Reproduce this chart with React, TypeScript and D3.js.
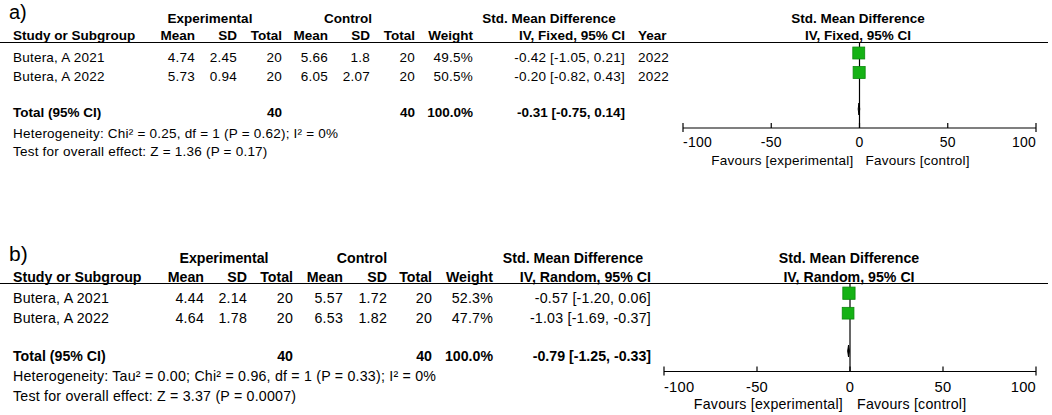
import React from 'react';
import * as d3 from 'd3';

// ---- data: panel a (fixed effect) ----
const studiesA = ['Butera, A 2021', 'Butera, A 2022'];
const expMeanA = [4.74, 5.73];
const expSdA = [2.45, 0.94];
const expNA = [20, 20];
const ctlMeanA = [5.66, 6.05];
const ctlSdA = [1.8, 2.07];
const ctlNA = [20, 20];
const weightA = [49.5, 50.5];
const smdA = [-0.42, -0.2];
const loA = [-1.05, -0.82];
const hiA = [0.21, 0.43];
const yearA = [2022, 2022];
const totalA = { exp: 40, ctl: 40, smd: -0.31, lo: -0.75, hi: 0.14 };
const hetA = 'Heterogeneity: Chi² = 0.25, df = 1 (P = 0.62); I² = 0%';
const testA = 'Test for overall effect: Z = 1.36 (P = 0.17)';

// ---- data: panel b (random effects) ----
const studiesB = ['Butera, A 2021', 'Butera, A 2022'];
const expMeanB = [4.44, 4.64];
const expSdB = [2.14, 1.78];
const expNB = [20, 20];
const ctlMeanB = [5.57, 6.53];
const ctlSdB = [1.72, 1.82];
const ctlNB = [20, 20];
const weightB = [52.3, 47.7];
const smdB = [-0.57, -1.03];
const loB = [-1.2, -1.69];
const hiB = [0.06, -0.37];
const totalB = { exp: 40, ctl: 40, smd: -0.79, lo: -1.25, hi: -0.33 };
const hetB = 'Heterogeneity: Tau² = 0.00; Chi² = 0.96, df = 1 (P = 0.33); I² = 0%';
const testB = 'Test for overall effect: Z = 3.37 (P = 0.0007)';

const axisTicks = [-100, -50, 0, 50, 100];

const FONT = '"Liberation Sans", Arial, Helvetica, sans-serif';

interface PanelData {
  tag: string;
  method: string;
  studies: string[];
  expMean: number[];
  expSd: number[];
  expN: number[];
  ctlMean: number[];
  ctlSd: number[];
  ctlN: number[];
  weight: number[];
  smd: number[];
  lo: number[];
  hi: number[];
  year?: number[];
  total: { exp: number; ctl: number; smd: number; lo: number; hi: number };
  het: string;
  test: string;
}

interface Layout {
  fs: number;
  tagFs: number;
  tagY: number;
  head1: number;
  head2: number;
  rule: number;
  row0: number;
  rowStep: number;
  sqOffset: number;
  totalY: number;
  hetY: number;
  testY: number;
  diamondY: number;
  axisY: number;
  tickY: number;
  favY: number;
  cols: Record<string, number>;
  expHead: number;
  ctlHead: number;
  smdHead: number;
  plot: [number, number];
  plotHead: number;
  favGap: number;
}

const layoutA: Layout = {
  fs: 13.5, tagFs: 20, tagY: 18.5,
  head1: 22.5, head2: 40, rule: 42.5,
  row0: 61.5, rowStep: 19.5, sqOffset: 8.5,
  totalY: 117, hetY: 137.5, testY: 156,
  diamondY: 109, axisY: 128, tickY: 146.5, favY: 165,
  cols: { study: 13, expMean: 195, expSd: 237, expN: 282, ctlMean: 328, ctlSd: 370, ctlN: 415, weight: 473, ci: 625, year: 638 },
  expHead: 210, ctlHead: 348, smdHead: 549,
  plot: [683, 1036], plotHead: 858, favGap: 6,
};

const layoutB: Layout = {
  fs: 14.2, tagFs: 21, tagY: 260.5,
  head1: 263, head2: 281.5, rule: 283.5,
  row0: 303, rowStep: 20, sqOffset: 9.8,
  totalY: 361, hetY: 381, testY: 401,
  diamondY: 351, axisY: 371.5, tickY: 392, favY: 409,
  cols: { study: 13, expMean: 204, expSd: 247, expN: 293, ctlMean: 343, ctlSd: 387, ctlN: 432, weight: 493, ci: 651 },
  expHead: 224, ctlHead: 362, smdHead: 573,
  plot: [664, 1036], plotHead: 849, favGap: 7,
};

const ciText = (m: number, l: number, h: number) =>
  `${m.toFixed(2)} [${l.toFixed(2)}, ${h.toFixed(2)}]`;

const SPACING = 0.22;

const Panel: React.FC<{ d: PanelData; L: Layout }> = ({ d, L }) => {
  const x = d3.scaleLinear().domain([-100, 100]).range(L.plot);
  const sq = d3.scaleSqrt().domain([0, 50]).range([0, 12]);
  const c = L.cols;
  const hasYear = !!d.year;

  // right-aligned regular text
  const R = (props: any) => <text textAnchor="end" letterSpacing={SPACING} {...props} />;
  const T = (props: any) => <text letterSpacing={SPACING} {...props} />;

  return (
    <g fontFamily={FONT} fontSize={L.fs} fill="#000">
      <text x={9} y={L.tagY} fontSize={L.tagFs} fontWeight={300}>{d.tag}</text>

      {/* header row 1 */}
      <g fontWeight="bold">
        <text x={L.expHead} y={L.head1} textAnchor="middle">Experimental</text>
        <text x={L.ctlHead} y={L.head1} textAnchor="middle">Control</text>
        <text x={L.smdHead} y={L.head1} textAnchor="middle">Std. Mean Difference</text>
        <text x={L.plotHead} y={L.head1} textAnchor="middle">Std. Mean Difference</text>
        {/* header row 2 */}
        <text x={c.study} y={L.head2}>Study or Subgroup</text>
        <text textAnchor="end" x={c.expMean} y={L.head2}>Mean</text>
        <text textAnchor="end" x={c.expSd} y={L.head2}>SD</text>
        <text textAnchor="end" x={c.expN} y={L.head2}>Total</text>
        <text textAnchor="end" x={c.ctlMean} y={L.head2}>Mean</text>
        <text textAnchor="end" x={c.ctlSd} y={L.head2}>SD</text>
        <text textAnchor="end" x={c.ctlN} y={L.head2}>Total</text>
        <text textAnchor="end" x={c.weight} y={L.head2}>Weight</text>
        <text textAnchor="end" x={c.ci} y={L.head2}>{`IV, ${d.method}, 95% CI`}</text>
        {hasYear && <text x={c.year} y={L.head2}>Year</text>}
        <text x={L.plotHead} y={L.head2} textAnchor="middle">{`IV, ${d.method}, 95% CI`}</text>
      </g>
      <line x1={0} x2={1048} y1={L.rule} y2={L.rule} stroke="#000" strokeWidth={1.2} />

      {/* zero line */}
      <line x1={x(0)} x2={x(0)} y1={L.rule} y2={L.axisY} stroke="#000" strokeWidth={1.2} />

      {/* study rows */}
      {d.studies.map((s, i) => {
        const y = L.row0 + i * L.rowStep;
        const yc = y - L.sqOffset;
        const size = sq(d.weight[i]);
        return (
          <g key={s}>
            <T x={c.study} y={y}>{s}</T>
            <R x={c.expMean} y={y}>{String(d.expMean[i])}</R>
            <R x={c.expSd} y={y}>{String(d.expSd[i])}</R>
            <R x={c.expN} y={y}>{d.expN[i]}</R>
            <R x={c.ctlMean} y={y}>{String(d.ctlMean[i])}</R>
            <R x={c.ctlSd} y={y}>{String(d.ctlSd[i])}</R>
            <R x={c.ctlN} y={y}>{d.ctlN[i]}</R>
            <R x={c.weight} y={y}>{`${d.weight[i].toFixed(1)}%`}</R>
            <R x={c.ci} y={y}>{ciText(d.smd[i], d.lo[i], d.hi[i])}</R>
            {hasYear && <T x={c.year} y={y}>{d.year![i]}</T>}
            <line x1={x(d.lo[i])} x2={x(d.hi[i])} y1={yc} y2={yc} stroke="#000" />
            <rect
              x={x(d.smd[i]) - size / 2}
              y={yc - size / 2}
              width={size}
              height={size}
              fill="#15b215"
              stroke="#0c8a0c"
              strokeWidth={0.8}
            />
          </g>
        );
      })}

      {/* total row */}
      <g fontWeight="bold">
        <text x={c.study} y={L.totalY}>Total (95% CI)</text>
        <text textAnchor="end" x={c.expN} y={L.totalY}>{d.total.exp}</text>
        <text textAnchor="end" x={c.ctlN} y={L.totalY}>{d.total.ctl}</text>
        <text textAnchor="end" x={c.weight} y={L.totalY}>100.0%</text>
        <text textAnchor="end" x={c.ci} y={L.totalY}>{ciText(d.total.smd, d.total.lo, d.total.hi)}</text>
      </g>
      <path
        d={`M${x(d.total.lo)},${L.diamondY} L${x(d.total.smd)},${L.diamondY - 6} L${x(d.total.hi)},${L.diamondY} L${x(d.total.smd)},${L.diamondY + 6} Z`}
        fill="#000"
        stroke="#000"
        strokeWidth={1}
      />
      <T x={c.study} y={L.hetY}>{d.het}</T>
      <T x={c.study} y={L.testY}>{d.test}</T>

      {/* axis */}
      <line x1={L.plot[0]} x2={L.plot[1]} y1={L.axisY} y2={L.axisY} stroke="#000" strokeWidth={1.2} />
      {axisTicks.map((t, i) => {
        const end = i === 0 || i === axisTicks.length - 1;
        const anchor = i === 0 ? 'start' : i === axisTicks.length - 1 ? 'end' : 'middle';
        return (
          <g key={t}>
            <line
              x1={x(t)}
              x2={x(t)}
              y1={L.axisY - 5}
              y2={end ? L.axisY + 4 : L.axisY}
              stroke="#000"
              strokeWidth={1.2}
            />
            <T x={x(t)} y={L.tickY} textAnchor={anchor} fontSize={L.fs + 0.5}>{t}</T>
          </g>
        );
      })}
      <T x={x(0) - L.favGap} y={L.favY} textAnchor="end">Favours [experimental]</T>
      <T x={x(0) + L.favGap} y={L.favY}>Favours [control]</T>
    </g>
  );
};

const panelA: PanelData = {
  tag: 'a)', method: 'Fixed', studies: studiesA,
  expMean: expMeanA, expSd: expSdA, expN: expNA,
  ctlMean: ctlMeanA, ctlSd: ctlSdA, ctlN: ctlNA,
  weight: weightA, smd: smdA, lo: loA, hi: hiA, year: yearA,
  total: totalA, het: hetA, test: testA,
};

const panelB: PanelData = {
  tag: 'b)', method: 'Random', studies: studiesB,
  expMean: expMeanB, expSd: expSdB, expN: expNB,
  ctlMean: ctlMeanB, ctlSd: ctlSdB, ctlN: ctlNB,
  weight: weightB, smd: smdB, lo: loB, hi: hiB,
  total: totalB, het: hetB, test: testB,
};

export default function App() {
  return (
    <svg
      width={1052}
      height={415}
      style={{ position: 'absolute', left: 0, top: 0, background: '#fff' }}
    >
      <rect width={1052} height={415} fill="#fff" />
      <Panel d={panelA} L={layoutA} />
      <Panel d={panelB} L={layoutB} />
    </svg>
  );
}
